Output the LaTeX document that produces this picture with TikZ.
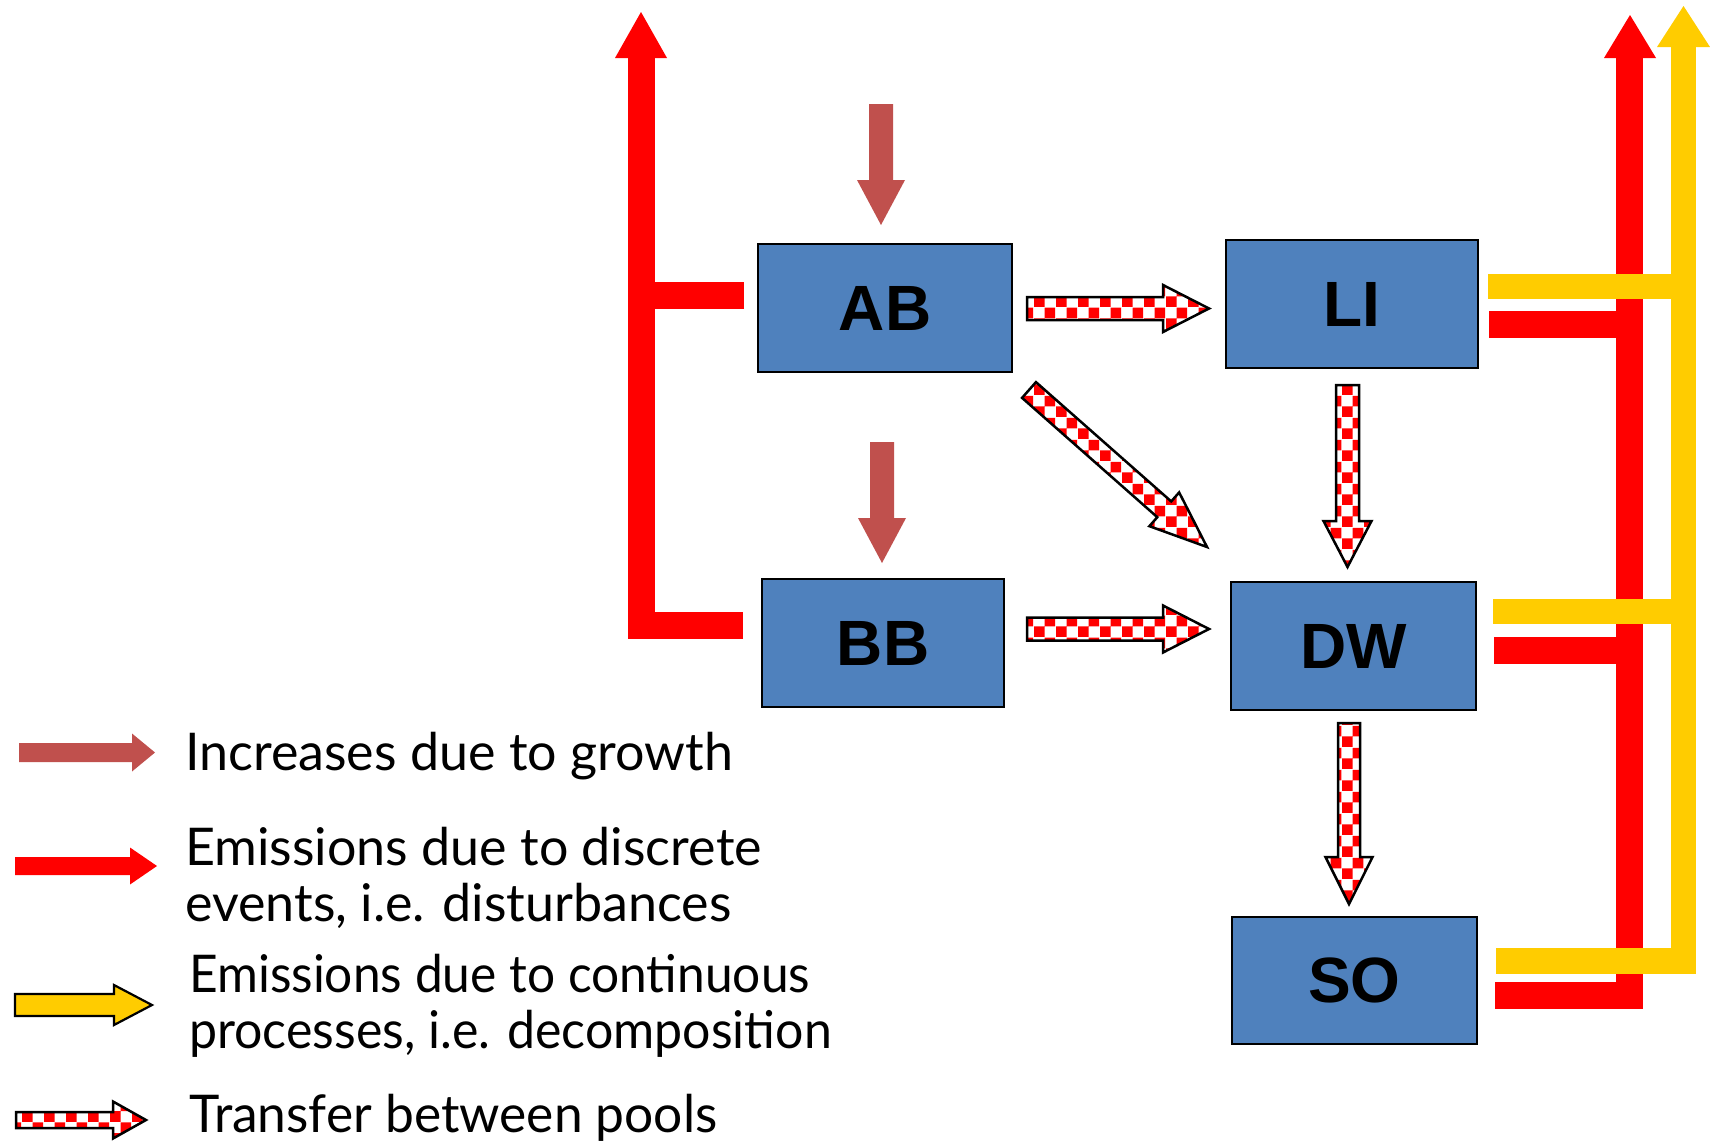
\documentclass[tikz,border=0pt]{standalone}
\usepackage{fontspec}
\setmainfont{Liberation Sans}
\newfontfamily\legendfont{Lato}
\usetikzlibrary{patterns,calc}
\definecolor{boxblue}{HTML}{4F81BD}
\definecolor{growth}{HTML}{C0504D}
\definecolor{emred}{HTML}{FF0000}
\definecolor{emyel}{HTML}{FFCC00}
\pgfdeclarepatternformonly{bigcheck}{\pgfpointorigin}{\pgfqpoint{22pt}{22pt}}{\pgfqpoint{22pt}{22pt}}{%
  \pgfpathrectangle{\pgfpointorigin}{\pgfqpoint{11pt}{11pt}}%
  \pgfpathrectangle{\pgfqpoint{11pt}{11pt}}{\pgfqpoint{11pt}{11pt}}%
  \pgfusepath{fill}}
% #1 style, #2 tail, #3 tip, #4 half shaft, #5 half head, #6 head length
\newcommand\blockarrow[6]{%
  \path ($(#3)!#6!(#2)$) coordinate (ba-neck);
  \path[#1] ($(#2)!#4!90:(#3)$) -- ($(ba-neck)!#4!90:(#3)$) -- ($(ba-neck)!#5!90:(#3)$)
    -- (#3) -- ($(ba-neck)!#5!-90:(#3)$) -- ($(ba-neck)!#4!-90:(#3)$) -- ($(#2)!#4!-90:(#3)$) -- cycle;
}
\tikzset{
  pool/.style={draw=black, line width=2.5pt, fill=boxblue, inner sep=0pt,
    font=\fontsize{64}{64}\selectfont\bfseries},
  growthfill/.style={fill=growth},
  checkfill/.style={fill=white, postaction={pattern=bigcheck, pattern color=emred},
    postaction={draw=black, line width=2.5pt, line join=miter}},
  yellowfill/.style={fill=emyel, draw=black, line width=2.2pt, line join=miter},
  redfill/.style={fill=emred},
  emline/.style={draw=emred, line width=27pt, line cap=butt, line join=miter},
  yline/.style={draw=emyel, line width=25.5pt, line cap=butt, line join=miter},
  legtext/.style={anchor=base west, inner sep=0pt, font=\legendfont\fontsize{52}{52}\selectfont},
}
\begin{document}
\begin{tikzpicture}[x=1pt, y=-1pt]
\useasboundingbox (0,0) rectangle (1710,1143);
\fill[white] (0,0) rectangle (1710,1143);

% pools
\node[pool, minimum width=254pt, minimum height=128pt] (AB) at (885,308) {AB};
\node[pool, minimum width=252pt, minimum height=128pt] (LI) at (1352,304) {LI};
\node[pool, minimum width=242pt, minimum height=128pt] (BB) at (883,643) {BB};
\node[pool, minimum width=245pt, minimum height=128pt] (DW) at (1353.5,646) {DW};
\node[pool, minimum width=245pt, minimum height=127pt] (SO) at (1354.5,980.5) {SO};

% emissions due to discrete events (left)
\coordinate (abR) at (744,295.5);
\coordinate (bbR) at (743,625);
\coordinate (lcorner) at (641,625);
\coordinate (ltop) at (641,57);
\draw[emline] (bbR) -- (lcorner) -- (ltop);
\draw[emline] (abR) -- (641,295.5);
\fill[emred] (615,58) -- (641,12) -- (667,58) -- cycle;

% emissions due to discrete events (right)
\coordinate (soR) at (1495,995.5);
\coordinate (rcorner) at (1629.5,995.5);
\coordinate (rtop) at (1629.5,57);
\draw[emline] (soR) -- (rcorner) -- (rtop);
\draw[emline] (1489,324) -- (1629.5,324);
\draw[emline] (1494,650) -- (1629.5,650);
\fill[emred] (1604,58) -- (1630,15) -- (1656,58) -- cycle;

% emissions due to continuous processes
\coordinate (soY) at (1496,961);
\coordinate (ycorner) at (1683.5,961);
\coordinate (ytop) at (1683.5,46);
\draw[yline] (soY) -- (ycorner) -- (ytop);
\draw[yline] (1488,286.5) -- (1683.5,286.5);
\draw[yline] (1493,611.5) -- (1683.5,611.5);
\fill[emyel] (1657,47) -- (1683.5,6) -- (1710,47) -- cycle;

% growth
\coordinate (g1a) at (881,104); \coordinate (g1b) at (881,225);
\coordinate (g2a) at (882,442); \coordinate (g2b) at (882,563);
\blockarrow{growthfill}{g1a}{g1b}{12pt}{24pt}{45pt}
\blockarrow{growthfill}{g2a}{g2b}{12pt}{24pt}{45pt}

% transfers
\coordinate (t1a) at (1027,308.5); \coordinate (t1b) at (1209,308.5);
\coordinate (t2a) at (1027,629); \coordinate (t2b) at (1209,629);
\coordinate (t3a) at (1347.5,385); \coordinate (t3b) at (1347.5,567);
\coordinate (t4a) at (1349,723); \coordinate (t4b) at (1349,904);
\coordinate (t5a) at (1029,390); \coordinate (t5b) at (1207,547);
\blockarrow{checkfill}{t1a}{t1b}{11.5pt}{23.5pt}{46pt}
\blockarrow{checkfill}{t2a}{t2b}{11.5pt}{23.5pt}{46pt}
\blockarrow{checkfill}{t3a}{t3b}{11.5pt}{24pt}{46pt}
\blockarrow{checkfill}{t4a}{t4b}{11pt}{23.5pt}{47pt}
\blockarrow{checkfill}{t5a}{t5b}{10.5pt}{22.5pt}{57pt}

% legend
\coordinate (l1a) at (19,752.5); \coordinate (l1b) at (155,752.5);
\coordinate (l2a) at (15,866); \coordinate (l2b) at (157,866);
\coordinate (l3a) at (15,1005); \coordinate (l3b) at (152,1005);
\coordinate (l4a) at (16,1120); \coordinate (l4b) at (146,1120);
\blockarrow{growthfill}{l1a}{l1b}{9.5pt}{19pt}{23pt}
\blockarrow{redfill}{l2a}{l2b}{9pt}{18.5pt}{27pt}
\blockarrow{yellowfill}{l3a}{l3b}{11pt}{20pt}{38pt}
\blockarrow{checkfill}{l4a}{l4b}{8pt}{18.5pt}{33pt}

\node[legtext] (t1) at (185,770) {Increases due to growth};
\node[legtext] (t2) at (185,865) {Emissions due to discrete};
\node[legtext] (t3) at (185,921) {events, i.e. disturbances};
\node[legtext] (t4) at (189,992) {\scalebox{0.955}[1]{Emissions due to continuous}};
\node[legtext] (t5) at (189,1048) {\scalebox{0.962}[1]{processes, i.e. decomposition}};
\node[legtext] (t6) at (189,1132) {\scalebox{0.99}[1]{Transfer between pools}};
\end{tikzpicture}
\end{document}
